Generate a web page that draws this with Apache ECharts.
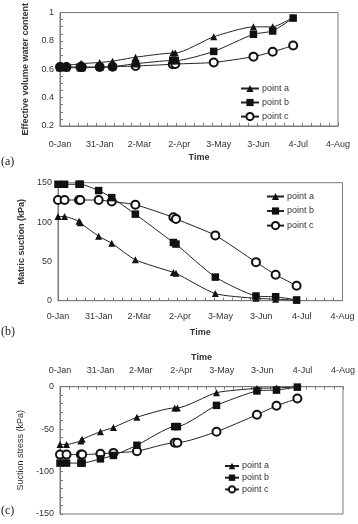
<!DOCTYPE html>
<html>
<head>
<meta charset="utf-8">
<script src="https://cdn.jsdelivr.net/npm/echarts@6/dist/echarts.min.js"></script>
<style>
html,body{margin:0;padding:0;background:#fff}
#chart{width:358px;height:524px}
</style>
</head>
<body>
<div id="chart"></div>
<script>
// days since 0-Jan
var days = [0, 5, 16, 17, 31, 41, 59, 88, 90, 120, 151, 166, 182];
var dateLabels = ['0-Jan', '31-Jan', '2-Mar', '2-Apr', '3-May', '3-Jun', '4-Jul', '4-Aug'];
var pointNames = ['point a', 'point b', 'point c'];

// (a) effective volume water content
var waterA = [0.63, 0.63, 0.638, 0.64, 0.648, 0.657, 0.685, 0.714, 0.714, 0.829, 0.899, 0.899, 0.966];
var waterB = [0.611, 0.611, 0.611, 0.611, 0.614, 0.618, 0.639, 0.662, 0.66, 0.726, 0.847, 0.87, 0.961];
var waterC = [0.616, 0.616, 0.616, 0.616, 0.616, 0.618, 0.623, 0.635, 0.637, 0.648, 0.689, 0.723, 0.767];

// (b) matric suction (kPa)
var suctionA = [107, 107, 101, 99, 82, 73, 52, 36, 35, 9, 3, 2, 0.5];
var suctionB = [148, 148, 148, 148, 140, 131, 110, 74, 72, 30, 6, 5, 1];
var suctionC = [128, 128, 128, 128, 128, 126, 122, 106, 104, 83, 49, 33, 19];

// (c) suction stress (kPa)
var stressA = [-68, -68, -64, -62, -53, -48, -36, -25, -25, -7, -2, -1.5, 0];
var stressB = [-90, -90, -90, -90, -85, -81, -69, -47, -47, -22, -5, -4, -0.5];
var stressC = [-80, -80, -80, -80, -79, -78, -76, -66, -66, -53, -33, -22.5, -14];

var FONT = '"Liberation Sans", Arial, sans-serif';
var AXIS_COLOR = '#7a7a7a';
var TEXT_COLOR = '#333';

function pairs(vals) {
    return days.map(function (d, i) { return [d, vals[i]]; });
}

var symbols = ['triangle', 'rect', 'emptyCircle'];
var sizes = [7, 7.5, 8];

function makeSeries(idx, vals, gridIdx) {
    return {
        name: pointNames[idx],
        type: 'line',
        xAxisIndex: gridIdx * 2,
        yAxisIndex: gridIdx,
        data: pairs(vals),
        smooth: 0.2,
        symbol: symbols[idx],
        symbolSize: sizes[idx],
        showAllSymbol: true,
        lineStyle: {color: '#222', width: 1},
        itemStyle: {color: '#111', borderWidth: 0.8},
        emphasis: {disabled: true},
        z: 3 - idx
    };
}

function mainX(gridIdx, pos, margin, nameGap) {
    return {
        type: 'value', gridIndex: gridIdx, position: pos,
        min: 0, max: 217, interval: 31,
        name: 'Time', nameLocation: 'middle', nameGap: nameGap,
        nameTextStyle: {fontFamily: FONT, fontSize: 9, fontWeight: 'bold', color: TEXT_COLOR},
        axisLine: {show: true, lineStyle: {color: AXIS_COLOR}},
        axisTick: {show: false},
        splitLine: {show: false},
        axisLabel: {
            margin: margin, fontFamily: FONT, fontSize: 9, color: TEXT_COLOR,
            formatter: function (v) { return dateLabels[Math.round(v / 31)]; }
        }
    };
}

function tickX(gridIdx, pos) {
    return {
        type: 'value', gridIndex: gridIdx, position: pos,
        min: 0, max: 217, interval: 7,
        axisLine: {show: false},
        axisLabel: {show: false},
        splitLine: {show: false},
        axisTick: {show: true, inside: true, length: 3, lineStyle: {color: AXIS_COLOR}}
    };
}

function makeY(gridIdx, min, max, interval, name, nameGap, bold, minorSplit) {
    return {
        type: 'value', gridIndex: gridIdx,
        min: min, max: max, interval: interval,
        name: name, nameLocation: 'middle', nameGap: nameGap,
        nameTextStyle: {fontFamily: FONT, fontSize: 9, fontWeight: bold ? 'bold' : 'normal', color: TEXT_COLOR},
        axisLine: {show: true, lineStyle: {color: AXIS_COLOR}},
        axisTick: {show: minorSplit > 0, inside: true, length: 3, lineStyle: {color: AXIS_COLOR}},
        minorTick: {show: minorSplit > 0, splitNumber: minorSplit || 5, length: 3, lineStyle: {color: AXIS_COLOR}},
        splitLine: {show: false},
        axisLabel: {margin: 6, fontFamily: FONT, fontSize: 9, color: TEXT_COLOR}
    };
}

function makeLegend(left, top, w, h, gap) {
    return {
        data: pointNames, orient: 'vertical', left: left, top: top,
        itemWidth: w, itemHeight: h, itemGap: gap, padding: 0,
        selectedMode: false,
        textStyle: {fontFamily: FONT, fontSize: 9, color: TEXT_COLOR, padding: [0, 0, 0, -2]}
    };
}

var gridStyle = {show: true, borderColor: AXIS_COLOR, borderWidth: 1, containLabel: false};

var option = {
    animation: false,
    backgroundColor: '#fff',
    grid: [
        Object.assign({left: 60, top: 9.5, width: 278, height: 116.5}, gridStyle),
        Object.assign({left: 58, top: 182.7, width: 284.5, height: 118}, gridStyle),
        Object.assign({left: 60, top: 386.7, width: 283.3, height: 127.3}, gridStyle)
    ],
    xAxis: [
        mainX(0, 'bottom', 14, 27),
        tickX(0, 'bottom'),
        mainX(1, 'bottom', 11, 27),
        tickX(1, 'bottom'),
        mainX(2, 'top', 12, 25),
        tickX(2, 'top')
    ],
    yAxis: [
        makeY(0, 0.2, 1, 0.2, 'Effective volume water content', 30, true, 4),
        makeY(1, 0, 150, 50, 'Matric suction (kPa)', 27, true, 0),
        makeY(2, -150, 0, 50, 'Suction stress (kPa)', 29, false, 5)
    ],
    legend: [
        makeLegend(240, 84, 18, 9, 5),
        makeLegend(266, 192, 17, 9, 5.5),
        makeLegend(224, 461.5, 14, 8, 2.7)
    ],
    graphic: [
        {type: 'text', left: 1, top: 156, style: {text: '(a)', font: '12px "Liberation Serif", serif', fill: '#222'}},
        {type: 'text', left: 1, top: 326, style: {text: '(b)', font: '12px "Liberation Serif", serif', fill: '#222'}},
        {type: 'text', left: 1, top: 505, style: {text: '(c)', font: '12px "Liberation Serif", serif', fill: '#222'}}
    ],
    series: [
        makeSeries(0, waterA, 0), makeSeries(1, waterB, 0), makeSeries(2, waterC, 0),
        makeSeries(0, suctionA, 1), makeSeries(1, suctionB, 1), makeSeries(2, suctionC, 1),
        makeSeries(0, stressA, 2), makeSeries(1, stressB, 2), makeSeries(2, stressC, 2)
    ]
};

var myChart = echarts.init(document.getElementById('chart'));
myChart.setOption(option);
</script>
</body>
</html>
